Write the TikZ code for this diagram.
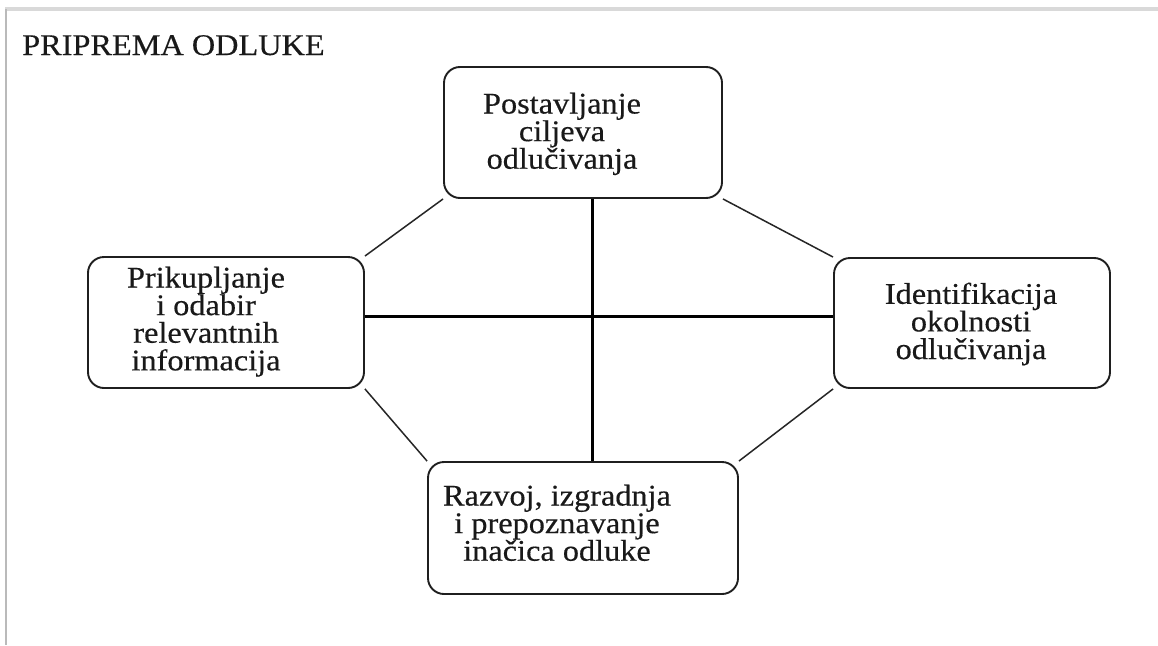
\documentclass[tikz,border=0pt]{standalone}
\usepackage{fontspec}
\setmainfont{Liberation Serif}[FakeStretch=1.077,FakeBold=0.4]
\begin{document}
\begin{tikzpicture}[x=1pt,y=-1pt,
  stagebox/.style={draw=black!88,line width=1.9pt,rounded corners=16pt,inner sep=0pt},
  stagetext/.style={anchor=north,inner sep=0pt,align=center,text=black!90,
    font=\fontsize{30}{27.6}\selectfont},
  linkline/.style={draw=black!85,line width=1.5pt},
  crossline/.style={draw=black,line width=3pt}]
  % page frame
  \useasboundingbox (0,0) rectangle (1158,645);
  \fill[white] (0,0) rectangle (1158,645);
  \fill[black!15] (5,7) rectangle (1158,11);
  \fill[black!27] (5,9) rectangle (7,645);

  % heading
  \node[anchor=base west,inner sep=0pt,text=black!90,font=\fontsize{30}{36}\selectfont]
    (title) at (22,55) {PRIPREMA ODLUKE};

  % the four stages
  \node[stagebox,minimum width=278pt,minimum height=131pt] (goal) at (583,132.5) {};
  \node[stagebox,minimum width=276pt,minimum height=131pt] (info) at (226,322.5) {};
  \node[stagebox,minimum width=276pt,minimum height=130pt] (env)  at (972,323) {};
  \node[stagebox,minimum width=310pt,minimum height=132pt] (alt)  at (583,528) {};

  \node[stagetext] (goaltext) at (562,92.5) {Postavljanje\\ciljeva\\odlučivanja};
  \node[stagetext] (infotext) at (206,266.5) {Prikupljanje\\i odabir\\relevantnih\\informacija};
  \node[stagetext] (envtext)  at (971,282.5) {Identifikacija\\okolnosti\\odlučivanja};
  \node[stagetext] (alttext)  at (557,484.5) {Razvoj, izgradnja\\i prepoznavanje\\inačica odluke};

  % outer ring of thin connectors
  \draw[linkline] (goal.south west) -- (info.north east);
  \draw[linkline] (goal.south east) -- (env.north west);
  \draw[linkline] (info.south east) -- (alt.north west);
  \draw[linkline] (env.south west) -- (alt.north east);

  % central cross
  \coordinate (hub) at (592.5,316.7);
  \draw[crossline] (hub |- goal.south) -- (hub |- alt.north);
  \draw[crossline] (info.east |- hub) -- (env.west |- hub);
\end{tikzpicture}
\end{document}
